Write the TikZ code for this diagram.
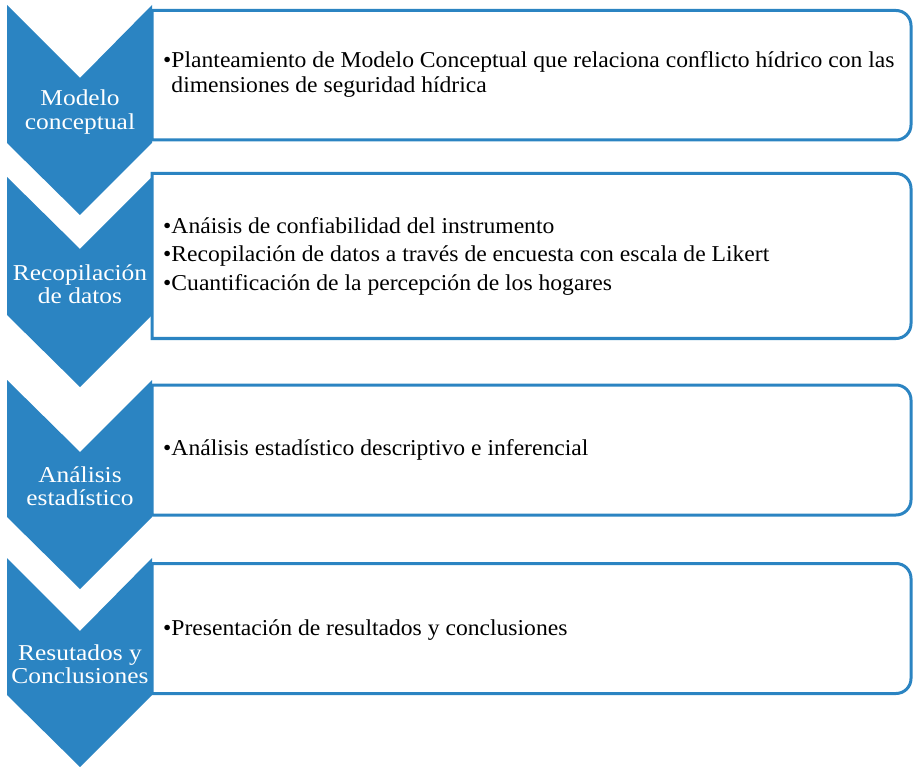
\documentclass[tikz,border=0pt]{standalone}
\usepackage{fontspec}
\setmainfont{Liberation Serif}
\newfontfamily\cuerpo{Liberation Serif}[FakeStretch=1.04]
\newfontfamily\rotulo{Liberation Serif}[FakeStretch=1.12]
\definecolor{azul}{RGB}{43,132,194}

\begin{document}
\begin{tikzpicture}[x=1pt, y=-1pt, chev/.style = {fill=azul}, caja/.style = {draw=azul, line width=3pt}, etiq/.style = {text=white, align=center, inner sep=0pt, font=\rotulo\fontsize{22.7}{23.5}\selectfont}, texto/.style = {anchor=west, align=left, inner sep=0pt, font=\cuerpo\fontsize{22.7}{24.5}\selectfont}]
        \useasboundingbox (0,0) rectangle (913,767);

        % chevrons
        \fill[chev] (7,5) -- (80,78) -- (152,5) -- (152,143) -- (80,215) -- (7,143) -- cycle;
        \fill[chev] (7,177) -- (80,249) -- (152,177) -- (152,315) -- (80,387) -- (7,315) -- cycle;
        \fill[chev] (7,380) -- (80,452) -- (152,380) -- (152,517) -- (80,589) -- (7,517) -- cycle;
        \fill[chev] (7,558) -- (80,631) -- (152,558) -- (152,695) -- (80,767) -- (7,695) -- cycle;

        % boxes
        \draw[caja] (152,10.5) -- (500,10.5) [rounded corners=15pt] -- (911,10.5) -- (911,140) -- (500,140) [sharp corners] -- (152,140) -- cycle;
        \draw[caja] (152,173.5) -- (500,173.5) [rounded corners=15pt] -- (911,173.5) -- (911,338.5) -- (500,338.5) [sharp corners] -- (152,338.5) -- cycle;
        \draw[caja] (152,385) -- (500,385) [rounded corners=15pt] -- (911,385) -- (911,515) -- (500,515) [sharp corners] -- (152,515) -- cycle;
        \draw[caja] (152,563.5) -- (500,563.5) [rounded corners=15pt] -- (911,563.5) -- (911,693.5) -- (500,693.5) [sharp corners] -- (152,693.5) -- cycle;

        % labels
        \node[etiq] (modelo) at (80,112) {Modelo\\conceptual};
        \node[etiq] (recop) at (80,284) {Recopilación\\de datos};
        \node[etiq] (analisis) at (80,486) {Análisis\\estadístico};
        \node[etiq] (result) at (80,664) {Resutados y\\Conclusiones};

        % bullets
        \node[texto] (t1) at (163,74.5) {\textbullet Planteamiento de Modelo Conceptual que relaciona conflicto hídrico con las\\\phantom{\textbullet}dimensiones de seguridad hídrica};
        \node[texto] (t2a) at (163,226) {\textbullet Anáisis de confiabilidad del instrumento};
        \node[texto] (t2b) at (163,256) {\textbullet Recopilación de datos a través de encuesta con escala de Likert};
        \node[texto] (t2c) at (163,285) {\textbullet Cuantificación de la percepción de los hogares};
        \node[texto] (t3) at (163,450) {\textbullet Análisis estadístico descriptivo e inferencial};
        \node[texto] (t4) at (163,630) {\textbullet Presentación de resultados y conclusiones};

    \end{tikzpicture}
\end{document}
